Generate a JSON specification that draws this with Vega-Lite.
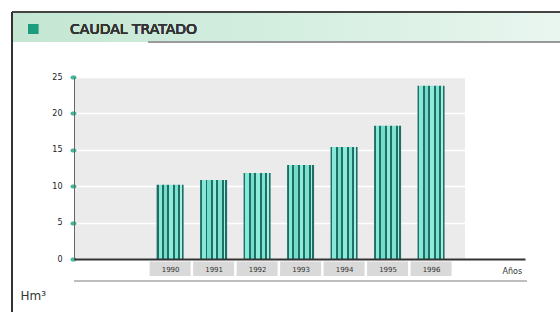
{
  "$schema": "https://vega.github.io/schema/vega-lite/v6.json",
  "width": 451,
  "height": 182,
  "autosize": "none",
  "padding": {"left": 74, "top": 77, "right": 35, "bottom": 53},
  "background": "#ffffff",
  "view": {"fill": "#ebebeb", "stroke": null},
  "config": {"font": "DejaVu Sans"},
  "data": {
    "values": [
      {"year": 1990, "value": 10.2},
      {"year": 1991, "value": 10.85},
      {"year": 1992, "value": 11.8},
      {"year": 1993, "value": 12.9},
      {"year": 1994, "value": 15.4},
      {"year": 1995, "value": 18.3},
      {"year": 1996, "value": 23.8}
    ]
  },
  "layer": [
    {
      "mark": {"type": "rect", "color": "#ffffff"},
      "encoding": {
        "x": {
          "datum": 1996.78,
          "type": "quantitative",
          "scale": {"domain": [1987.79, 1998.16], "nice": false, "zero": false, "padding": 0},
          "axis": {
            "values": [1990, 1991, 1992, 1993, 1994, 1995, 1996],
            "format": "d",
            "title": "Años",
            "titleX": 428,
            "titleY": 12,
            "titleAlign": "left",
            "titleBaseline": "middle",
            "titleFontSize": 8,
            "titleFontWeight": "normal",
            "titleColor": "#333333",
            "ticks": false,
            "grid": false,
            "domainColor": "#333333",
            "domainWidth": 2,
            "labelFontSize": 7,
            "labelColor": "#333333",
            "labelPadding": 6,
            "labelOverlap": false,
            "zindex": 1
          }
        },
        "x2": {"datum": 1998.3},
        "y": {
          "datum": 0,
          "type": "quantitative",
          "scale": {"domain": [0, 25], "nice": false, "zero": false, "padding": 0},
          "axis": {
            "values": [0, 5, 10, 15, 20, 25],
            "tickCount": 6,
            "title": "Hm³",
            "titleAngle": 0,
            "titleX": -54,
            "titleY": 222,
            "titleAlign": "left",
            "titleBaseline": "alphabetic",
            "titleFontSize": 12,
            "titleFontWeight": "normal",
            "titleColor": "#333333",
            "grid": true,
            "gridColor": "#ffffff",
            "gridWidth": 1.5,
            "domainColor": "#666666",
            "domainWidth": 1,
            "tickColor": "#45b89c",
            "tickSize": 2,
            "tickWidth": 4,
            "tickCap": "round",
            "labelFontSize": 8,
            "labelColor": "#222222",
            "labelPadding": 10,
            "labelOverlap": false,
            "zindex": 0
          }
        },
        "y2": {"datum": 25}
      }
    },
    {
      "mark": {"type": "rect", "clip": false, "color": {"x1": 0, "x2": 1, "y1": 0, "y2": 0, "gradient": "linear", "stops": [{"offset": 0, "color": "#c3e6d2"}, {"offset": 0.5, "color": "#d4eee0"}, {"offset": 1, "color": "#e9f6ef"}]}},
      "encoding": {
        "x": {"datum": 1986.37, "type": "quantitative"},
        "x2": {"datum": 1998.97},
        "y": {"datum": 33.93, "type": "quantitative"},
        "y2": {"datum": 29.81}
      }
    },
    {
      "mark": {"type": "rule", "clip": false, "color": "#444444", "strokeWidth": 1.5},
      "encoding": {
        "x": {"datum": 1986.37, "type": "quantitative"},
        "x2": {"datum": 1998.97},
        "y": {"datum": 33.93, "type": "quantitative"}
      }
    },
    {
      "mark": {"type": "rule", "clip": false, "color": "#9a9a9a", "strokeWidth": 1},
      "encoding": {
        "x": {"datum": 1989.5, "type": "quantitative"},
        "x2": {"datum": 1998.97},
        "y": {"datum": 29.81, "type": "quantitative"}
      }
    },
    {
      "mark": {"type": "rule", "clip": false, "color": "#333333", "strokeWidth": 1.5},
      "encoding": {
        "x": {"datum": 1986.37, "type": "quantitative"},
        "y": {"datum": 33.93, "type": "quantitative"},
        "y2": {"datum": -7.3}
      }
    },
    {
      "mark": {"type": "point", "shape": "square", "filled": true, "clip": false, "color": "#1e9c7e", "size": 100, "opacity": 1},
      "encoding": {
        "x": {"datum": 1986.85, "type": "quantitative"},
        "y": {"datum": 31.59, "type": "quantitative"}
      }
    },
    {
      "mark": {"type": "text", "clip": false, "text": "CAUDAL TRATADO", "align": "left", "baseline": "alphabetic", "fontSize": 14, "color": "#333333", "font": "DejaVu Sans", "fontWeight": "normal"},
      "encoding": {
        "x": {"datum": 1987.7, "type": "quantitative"},
        "y": {"datum": 30.9, "type": "quantitative"}
      }
    },
    {
      "mark": {"type": "rule", "clip": false, "color": "#bdbdbd", "strokeWidth": 1.5},
      "encoding": {
        "x": {"datum": 1987.8, "type": "quantitative"},
        "x2": {"datum": 1998.2},
        "y": {"datum": -3.0, "type": "quantitative"}
      }
    },
    {
      "mark": {"type": "bar", "clip": false, "width": 41, "color": "#d9d9d9"},
      "encoding": {
        "x": {"field": "year", "type": "quantitative"},
        "y": {"datum": -0.35, "type": "quantitative"},
        "y2": {"datum": -2.35}
      }
    },
    {
      "mark": {
        "type": "bar",
        "width": 27,
        "color": {
          "gradient": "linear", "x1": 0, "x2": 1, "y1": 0, "y2": 0,
          "stops": [
            {"offset": 0, "color": "#1f6f64"}, {"offset": 0.07, "color": "#1f6f64"},
            {"offset": 0.07, "color": "#86e8d8"}, {"offset": 0.2, "color": "#86e8d8"},
            {"offset": 0.2, "color": "#1f6f64"}, {"offset": 0.27, "color": "#1f6f64"},
            {"offset": 0.27, "color": "#74dcca"}, {"offset": 0.4, "color": "#74dcca"},
            {"offset": 0.4, "color": "#1f6f64"}, {"offset": 0.47, "color": "#1f6f64"},
            {"offset": 0.47, "color": "#8eebdc"}, {"offset": 0.6, "color": "#8eebdc"},
            {"offset": 0.6, "color": "#1f6f64"}, {"offset": 0.67, "color": "#1f6f64"},
            {"offset": 0.67, "color": "#7fe2d1"}, {"offset": 0.8, "color": "#7fe2d1"},
            {"offset": 0.8, "color": "#1f6f64"}, {"offset": 0.87, "color": "#1f6f64"},
            {"offset": 0.87, "color": "#a3f0e3"}, {"offset": 0.93, "color": "#a3f0e3"},
            {"offset": 0.93, "color": "#1f6f64"}, {"offset": 1, "color": "#1f6f64"}
          ]
        }
      },
      "encoding": {
        "x": {"field": "year", "type": "quantitative"},
        "y": {
          "field": "value",
          "type": "quantitative",
          "axis": {
            "values": [0, 5, 10, 15, 20, 25],
            "tickCount": 6,
            "title": "Hm³",
            "titleAngle": 0,
            "titleX": -54,
            "titleY": 222,
            "titleAlign": "left",
            "titleBaseline": "alphabetic",
            "titleFontSize": 12,
            "titleFontWeight": "normal",
            "titleColor": "#333333",
            "grid": true,
            "gridColor": "#ffffff",
            "gridWidth": 1.5,
            "domainColor": "#666666",
            "domainWidth": 1,
            "tickColor": "#45b89c",
            "tickSize": 2,
            "tickWidth": 4,
            "tickCap": "round",
            "labelFontSize": 8,
            "labelColor": "#222222",
            "labelPadding": 10,
            "labelOverlap": false,
            "zindex": 0
          }
        }
      }
    }
  ]
}
